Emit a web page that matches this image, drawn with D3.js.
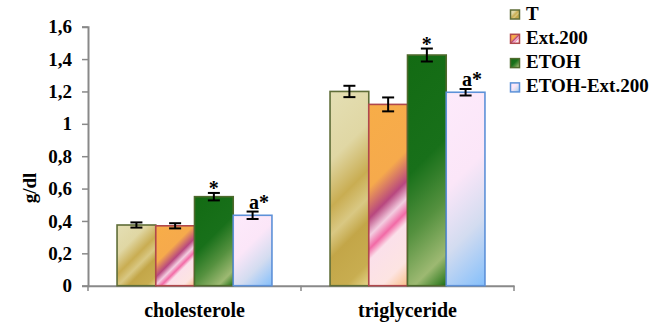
<!DOCTYPE html>
<html><head><meta charset="utf-8">
<script src="https://cdn.jsdelivr.net/npm/d3@7"></script>
<style>body{margin:0;background:#fff}svg{display:block}</style>
</head><body>
<script>
const categories = ["cholesterole", "triglyceride"];
const series = ["T", "Ext.200", "ETOH", "ETOH-Ext.200"];
const values = {
  "T":            [0.375, 1.20],
  "Ext.200":      [0.370, 1.12],
  "ETOH":         [0.550, 1.425],
  "ETOH-Ext.200": [0.435, 1.195]
};
const errors = {
  "T":            [0.016, 0.035],
  "Ext.200":      [0.016, 0.043],
  "ETOH":         [0.023, 0.040],
  "ETOH-Ext.200": [0.023, 0.020]
};
const marks = {"ETOH": "*", "ETOH-Ext.200": "a*"};
const yTicks = [0, 0.2, 0.4, 0.6, 0.8, 1, 1.2, 1.4, 1.6];
const yLabel = "g/dl";

const FONT = '"Liberation Serif", "Times New Roman", serif';
const W = 668, H = 322;
const svg = d3.select("body").append("svg").attr("width", W).attr("height", H);
const defs = svg.append("defs");
const styleText = sel => sel.style("font-family", FONT).style("font-weight", "bold").attr("fill", "#000");

const strokes = {"T": "#5f6d38", "Ext.200": "#b0484c", "ETOH": "#4e6a2c", "ETOH-Ext.200": "#5d91d8"};
const stops = {
  "T": [[0,"#e4dfb4"],[0.3,"#e0d7a4"],[0.5,"#c9ad52"],[0.62,"#d9c883"],[0.72,"#c3a648"],[0.9,"#c8ad50"],[1,"#e4d58a"]],
  "Ext.200": [[0,"#f7ad48"],[0.38,"#f6aa4c"],[0.52,"#b8477f"],[0.6,"#f3cde0"],[0.66,"#f26aa6"],[0.71,"#fbe0ea"],[0.88,"#fde4e2"],[1,"#f9c08a"]],
  "ETOH": [[0,"#136b13"],[0.45,"#18701a"],[0.68,"#55913f"],[0.88,"#9db972"],[0.96,"#4a8a34"],[1,"#1b6e18"]],
  "ETOH-Ext.200": [[0,"#fdeafb"],[0.42,"#fbe6f8"],[0.7,"#d3dcf0"],[1,"#84bffb"]]
};

const x0 = d3.scaleBand().domain(categories).range([88, 514]).paddingInner(0).paddingOuter(0);
const x1 = d3.scaleBand().domain(series).range([0, x0.bandwidth()]).paddingInner(0).paddingOuter(0.75);
const y = d3.scaleLinear().domain([0, 1.6]).range([285.7, 26.7]);

const fmt = d => String(+d.toFixed(1)).replace(".", ",");

// axes
const yAxis = svg.append("g").attr("transform", "translate(88,0)")
  .call(d3.axisLeft(y).tickValues(yTicks).tickFormat(fmt).tickSize(6).tickPadding(10));
yAxis.selectAll("text").call(styleText).style("font-size", "19px");

svg.append("g").attr("transform", "translate(0,285.7)")
  .call(d3.axisBottom(x0).tickValues([]).tickSizeOuter(0));
const bounds = [x0.range()[0], x0(categories[1]), x0.range()[1]];
svg.append("g").selectAll("line").data(bounds).join("line")
  .attr("x1", d => d).attr("x2", d => d).attr("y1", 285.7).attr("y2", 291)
  .attr("stroke", "#898989").attr("stroke-width", 1.5);
svg.selectAll(".domain").attr("stroke", "#898989").attr("stroke-width", 2);
svg.selectAll(".tick line").attr("stroke", "#898989").attr("stroke-width", 1.5);

svg.append("g").selectAll("text").data(categories).join("text")
  .attr("x", d => x0(d) + x0.bandwidth() / 2).attr("y", 317)
  .attr("text-anchor", "middle").call(styleText).style("font-size", "20px").text(d => d);

svg.append("text").attr("transform", "translate(36,188) rotate(-90)")
  .attr("text-anchor", "middle").call(styleText).style("font-size", "19px").text(yLabel);

// bars
const data = [];
categories.forEach((c, ci) => series.forEach((s, si) => data.push({c, ci, s, si, v: values[s][ci], e: errors[s][ci]})));

data.forEach((d, i) => {
  const bx = x0(d.c) + x1(d.s), bw = x1.bandwidth(), by = y(d.v), bh = y(0) - y(d.v);
  const L = (bw + bh) / 2;
  const g = defs.append("linearGradient").attr("id", "g" + i).attr("gradientUnits", "userSpaceOnUse")
    .attr("x1", bx).attr("y1", by).attr("x2", bx + L).attr("y2", by + L);
  stops[d.s].forEach(([o, c]) => g.append("stop").attr("offset", o).attr("stop-color", c));
  d.bx = bx; d.bw = bw; d.by = by; d.bh = bh; d.gid = "g" + i;
});

svg.append("g").selectAll("rect").data(data).join("rect")
  .attr("x", d => d.bx).attr("y", d => d.by).attr("width", d => d.bw).attr("height", d => d.bh)
  .attr("fill", d => `url(#${d.gid})`).attr("stroke", d => strokes[d.s]).attr("stroke-width", 1.6);

// error bars
const eg = svg.append("g").attr("stroke", "#000").attr("stroke-width", 2);
data.forEach(d => {
  const cx = d.bx + d.bw / 2, t = y(d.v + d.e), b = y(d.v - d.e);
  eg.append("line").attr("x1", cx).attr("x2", cx).attr("y1", t).attr("y2", b);
  eg.append("line").attr("x1", cx - 6).attr("x2", cx + 6).attr("y1", t).attr("y2", t);
  eg.append("line").attr("x1", cx - 6).attr("x2", cx + 6).attr("y1", b).attr("y2", b);
});

// significance marks
svg.append("g").selectAll("text").data(data.filter(d => marks[d.s])).join("text")
  .attr("x", d => d.bx + d.bw / 2 + (marks[d.s] === "a*" ? -3.5 : 0))
  .attr("y", d => y(d.v + d.e) + (marks[d.s] === "*" ? 2 : -3))
  .attr("text-anchor", d => marks[d.s] === "a*" ? "start" : "middle")
  .call(styleText).style("font-size", "20px").text(d => marks[d.s]);

// legend
const lg = svg.append("g");
series.forEach((s, i) => {
  const ly = 19.5 + i * 24.3;
  const lgId = "lg" + i;
  const g = defs.append("linearGradient").attr("id", lgId).attr("x1", 0).attr("y1", 0).attr("x2", 1).attr("y2", 1);
  stops[s].forEach(([o, c]) => g.append("stop").attr("offset", o).attr("stop-color", c));
  lg.append("rect").attr("x", 510.5).attr("y", ly - 9.5).attr("width", 9).attr("height", 9)
    .attr("fill", `url(#${lgId})`).attr("stroke", strokes[s]).attr("stroke-width", 1.5);
  lg.append("text").attr("x", 526).attr("y", ly).call(styleText).style("font-size", "19px").text(s);
});
</script>
</body></html>
